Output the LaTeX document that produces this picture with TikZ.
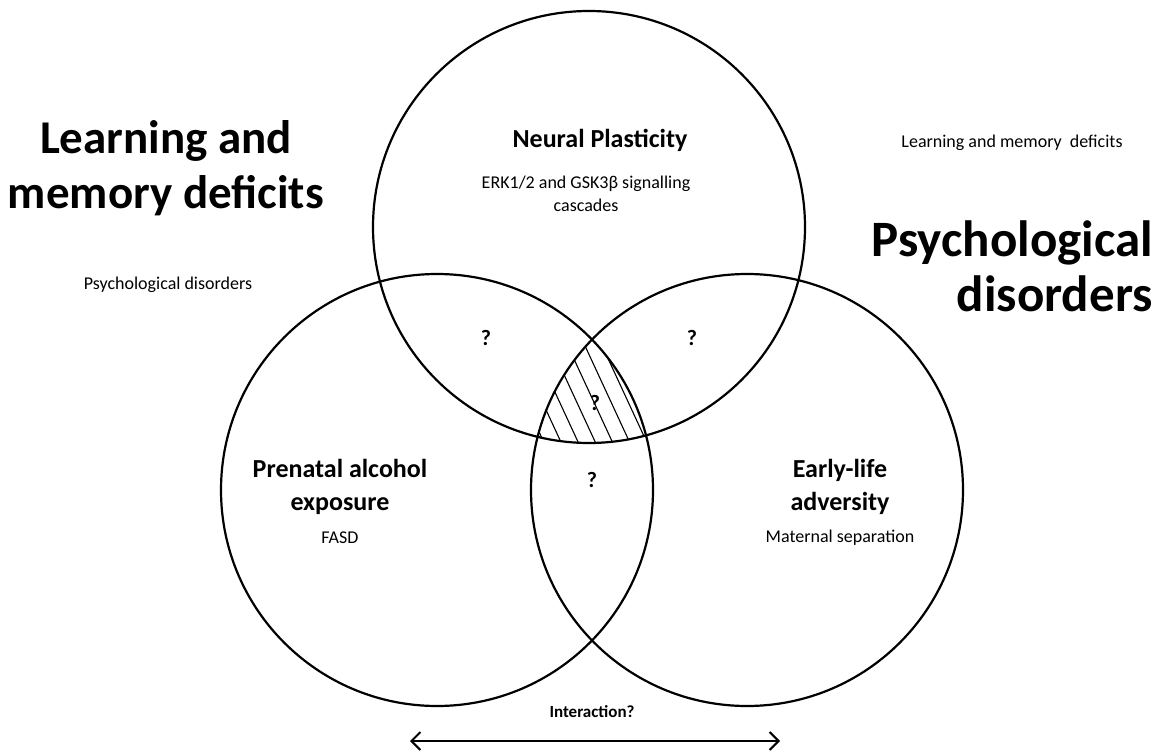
\documentclass[tikz,border=0pt]{standalone}
\usepackage{fontspec}
\setmainfont{Carlito}
\usetikzlibrary{arrows.meta}
\tikzset{
  venn/.style={circle, draw, line width=2.2pt, minimum size=432pt, inner sep=0pt},
  bigtxt/.style={font=\bfseries\fontsize{47}{55}\selectfont, align=center, inner sep=0pt},
  bigtxtr/.style={font=\bfseries\fontsize{51}{55}\selectfont, align=right, inner sep=0pt},
  head/.style={font=\bfseries\fontsize{26}{33}\selectfont, align=center, inner sep=0pt},
  small/.style={font=\fontsize{18}{23}\selectfont, align=center, inner sep=0pt},
  qmark/.style={font=\bfseries\fontsize{22}{26}\selectfont, inner sep=0pt},
  hatch/.style={line width=1.1pt},
  twoway/.style={line width=2pt, {Straight Barb[length=9pt,width=18pt]}-{Straight Barb[length=9pt,width=18pt]}}
}
\begin{document}
\begin{tikzpicture}[x=1pt,y=-1pt]
\useasboundingbox (0,0) rectangle (1159,751);
% hatched centre
\begin{scope}
  \clip (589,227) circle[radius=216pt];
  \clip (437,490) circle[radius=216pt];
  \clip (747,490) circle[radius=216pt];
  \foreach \k in {-9,...,9}
    \draw[hatch] (592+\k*14.1-50, 398-\k*6.6-108) -- (592+\k*14.1+50, 398-\k*6.6+108);
\end{scope}
% circles
\node[venn] (np) at (589,227) {};
\node[venn] (pae) at (437,490) {};
\node[venn] (ela) at (747,490) {};
% texts
\node[bigtxt] (lmd) at (166,168) {Learning and\\memory deficits};
\node[bigtxtr, anchor=east] (psy) at (1153,266) {Psychological\\disorders};
\node[head] (nph) at (600,140) {Neural Plasticity};
\node[small] (npd) at (586,194) {ERK1/2 and GSK3β signalling\\cascades};
\node[small] (lmds) at (1012,143) {Learning and memory\ \ deficits};
\node[small] (psys) at (168,285) {Psychological disorders};
\node[qmark] (q1) at (486,338) {?};
\node[qmark] (q2) at (692,338) {?};
\node[qmark] (q3) at (595,403) {?};
\node[qmark] (q4) at (592,480) {?};
\node[head] (paeh) at (340,487) {Prenatal alcohol\\exposure};
\node[small] (paed) at (340,538) {FASD};
\node[head] (elah) at (840,487) {Early-life\\adversity};
\node[small] (elad) at (840,538) {Maternal separation};
\node[font=\bfseries\fontsize{17}{20}\selectfont, inner sep=0pt] (inter) at (592,712) {Interaction?};
\coordinate (al) at (410,741);
\coordinate (ar) at (780,741);
\draw[twoway] (al) -- (ar);
\end{tikzpicture}
\end{document}
